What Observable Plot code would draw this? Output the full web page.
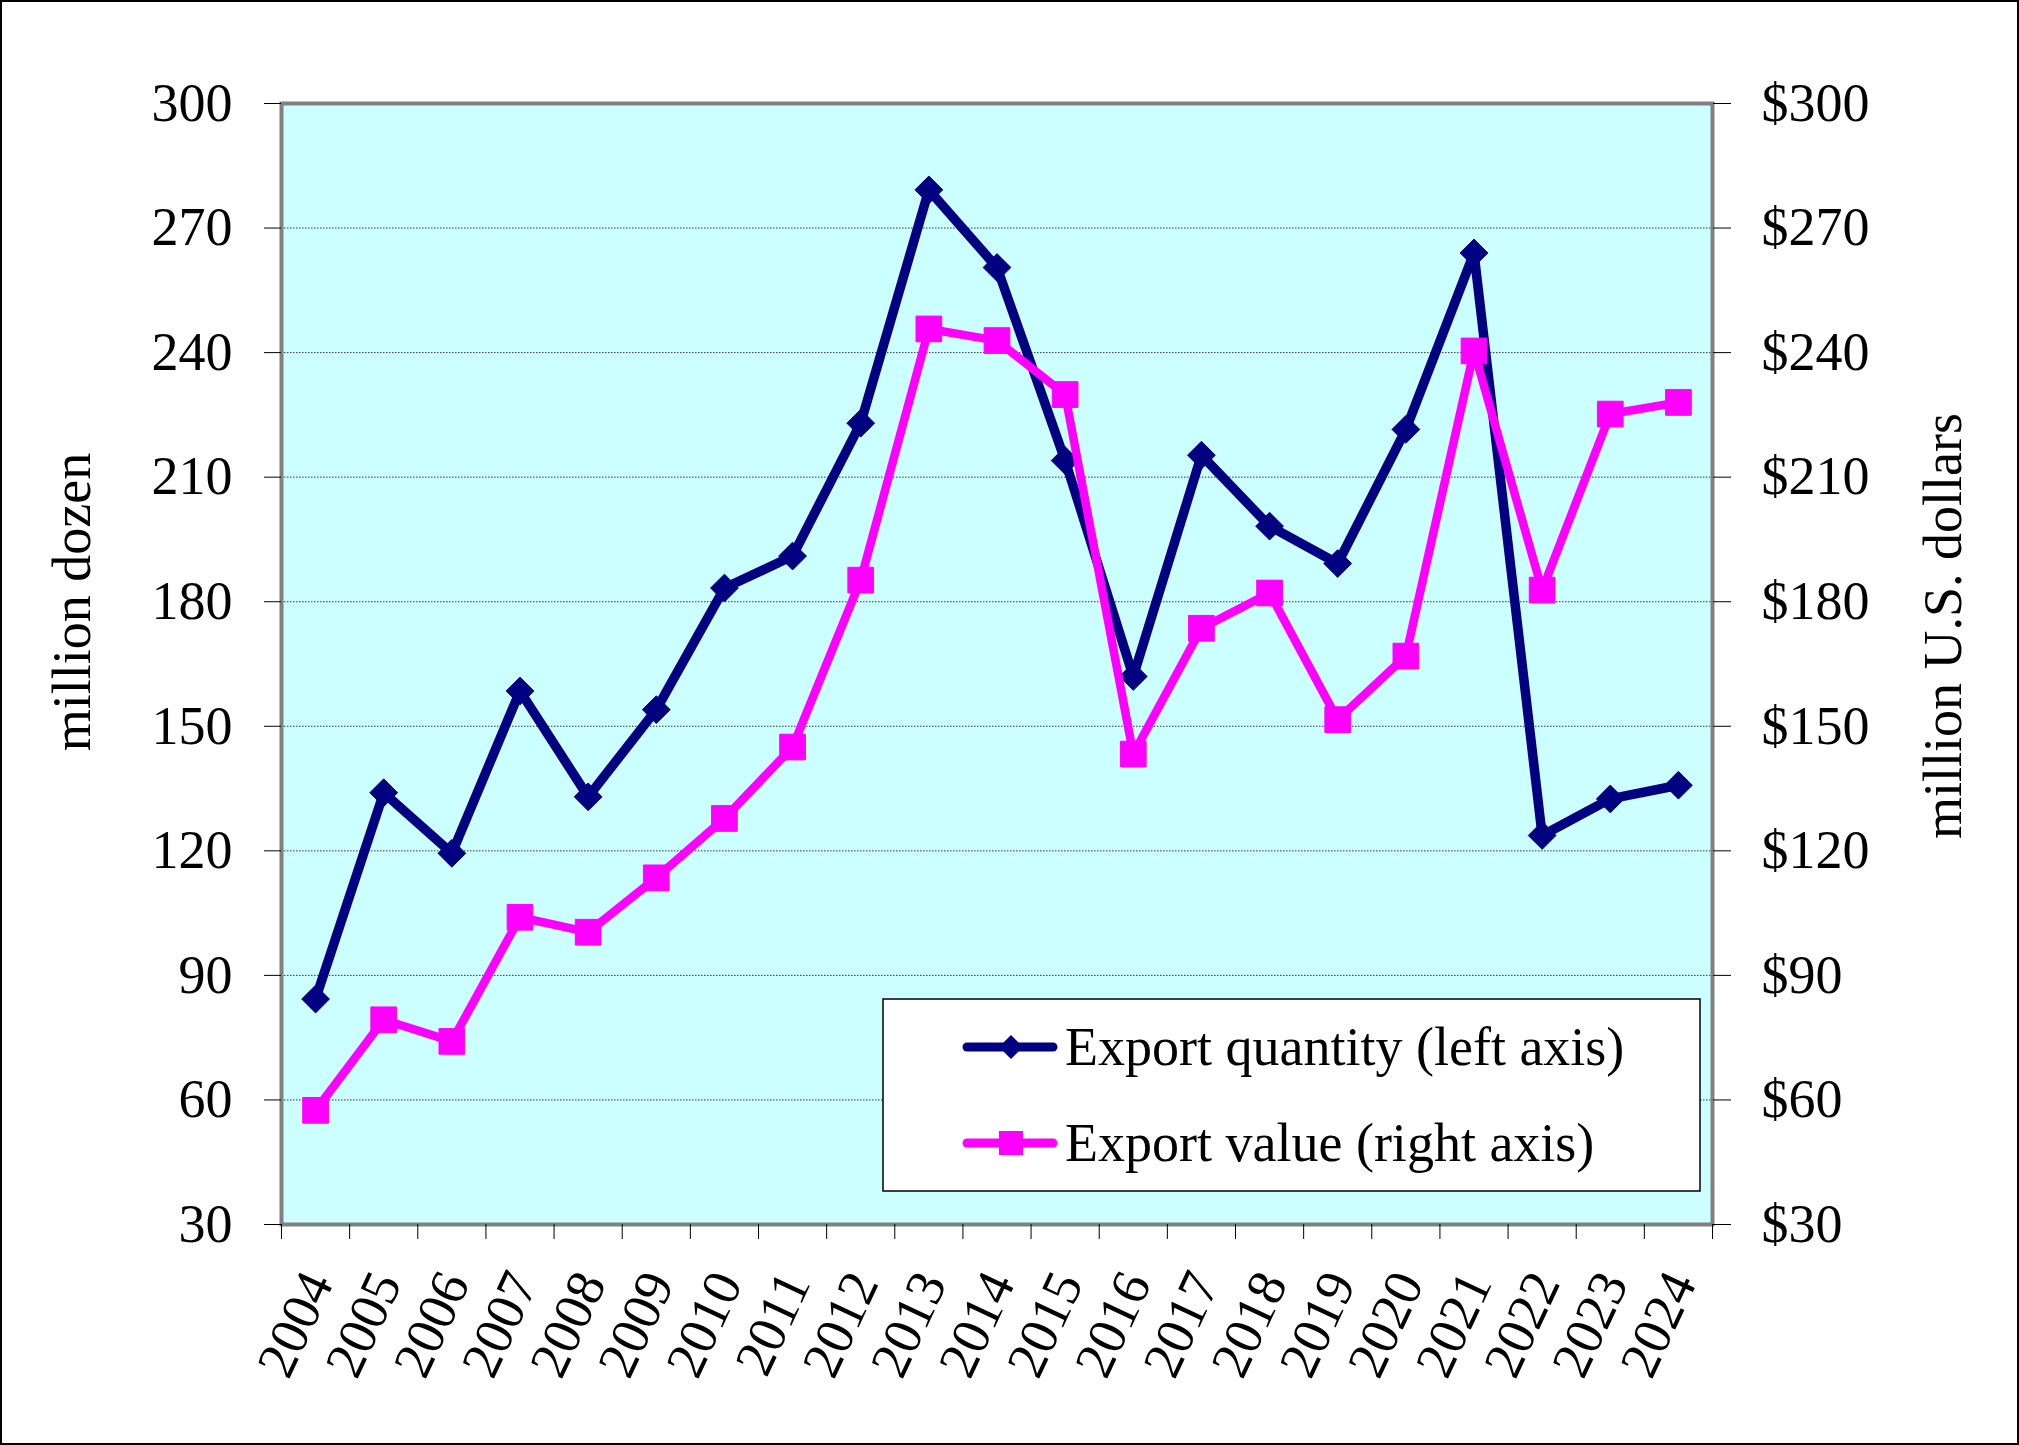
<!DOCTYPE html>
<html>
<head>
<meta charset="utf-8">
<script src="https://cdn.jsdelivr.net/npm/d3@7"></script>
<script src="https://cdn.jsdelivr.net/npm/@observablehq/plot@0.6"></script>
<style>
  html, body { margin: 0; padding: 0; background: white; }
  #chart svg { display: block; outline: 2px solid black; outline-offset: -2px; }
</style>
</head>
<body>
<div id="chart"></div>
<script>
const years = [2004,2005,2006,2007,2008,2009,2010,2011,2012,2013,2014,2015,2016,2017,2018,2019,2020,2021,2022,2023,2024];
const exportQuantity = [84.3,134,119.4,158.5,133,154,183.3,191,223,279.2,260.5,214,162,215.3,198.2,189.2,221.5,264,123.7,132.5,135.8];
const exportValue = [57.5,79.3,74.1,104,100.4,113.5,127.8,145,185.2,245.7,242.9,229.9,143.3,173.6,182.1,151.6,166.9,240.4,182.8,225.2,228];
const yTicks = [30,60,90,120,150,180,210,240,270,300];
const seriesNames = ["Export quantity (left axis)", "Export value (right axis)"];
const axisTitles = ["million dozen", "million U.S. dollars"];

const qty = years.map((year, i) => ({year, value: exportQuantity[i]}));
const val = years.map((year, i) => ({year, value: exportValue[i]}));
const bandEdges = [...years.map(y => y - 0.5), years[years.length - 1] + 0.5];

const NAVY = "#000080", MAGENTA = "#FF00FF";
const FONT = "Liberation Serif, Times New Roman, serif";

const chart = Plot.plot({
  width: 2019,
  height: 1445,
  marginLeft: 281,
  marginRight: 307,
  marginTop: 103,
  marginBottom: 221,
  style: {fontFamily: FONT, fontSize: "54px", background: "white", color: "black"},
  x: {type: "linear", domain: [years[0] - 0.5, years[years.length - 1] + 0.5], axis: null},
  y: {domain: [30, 300], axis: null},
  marks: [
    Plot.frame({fill: "#CCFFFF"}),
    Plot.gridY(yTicks, {stroke: "#222", strokeOpacity: 0.9, strokeWidth: 1, strokeDasharray: "1.5,1.5"}),
    Plot.frame({stroke: "#808080", strokeWidth: 4}),
    Plot.axisY(yTicks, {anchor: "left", label: null, tickSize: 17, tickPadding: 32, tickFormat: d => String(d)}),
    Plot.axisY(yTicks, {anchor: "right", label: null, tickSize: 18, tickPadding: 31, tickFormat: d => "$" + d}),
    Plot.axisX(bandEdges, {anchor: "bottom", label: null, tickSize: 15, tickFormat: () => ""}),
    Plot.text(years, {x: d => d, frameAnchor: "bottom", dy: 51, dx: 3, rotate: -65, textAnchor: "end", lineAnchor: "middle", text: d => String(d), fontSize: 54}),
    Plot.line(qty, {x: "year", y: "value", stroke: NAVY, strokeWidth: 9.5, strokeLinejoin: "round"}),
    Plot.dot(qty, {x: "year", y: "value", symbol: "diamond2", r: 12.5, fill: NAVY, stroke: NAVY, strokeWidth: 1}),
    Plot.line(val, {x: "year", y: "value", stroke: MAGENTA, strokeWidth: 8.5, strokeLinejoin: "round"}),
    Plot.dot(val, {x: "year", y: "value", symbol: "square", r: 14.5, fill: MAGENTA, stroke: MAGENTA, strokeWidth: 1})
  ]
});

const svg = d3.select(chart);

// Axis titles
svg.append("text")
  .attr("transform", "translate(90,602) rotate(-90)")
  .attr("text-anchor", "middle")
  .attr("font-family", FONT).attr("font-size", 54).attr("fill", "black")
  .text(axisTitles[0]);
svg.append("text")
  .attr("transform", "translate(1961,626) rotate(-90)")
  .attr("text-anchor", "middle")
  .attr("font-family", FONT).attr("font-size", 54).attr("fill", "black")
  .text(axisTitles[1]);

// Legend
const lg = svg.append("g");
lg.append("rect").attr("x", 883).attr("y", 999).attr("width", 817).attr("height", 192)
  .attr("fill", "white").attr("stroke", "black").attr("stroke-width", 1.5);
const rows = [
  {name: seriesNames[0], color: NAVY, symbol: d3.symbolDiamond2, size: 367, y: 1047},
  {name: seriesNames[1], color: MAGENTA, symbol: d3.symbolSquare, size: 576, y: 1143}
];
rows.forEach(r => {
  lg.append("line").attr("x1", 967).attr("x2", 1053).attr("y1", r.y).attr("y2", r.y)
    .attr("stroke", r.color).attr("stroke-width", 9).attr("stroke-linecap", "round");
  lg.append("path").attr("d", d3.symbol(r.symbol, r.size)())
    .attr("transform", `translate(1011,${r.y})`).attr("fill", r.color);
  lg.append("text").attr("x", 1065).attr("y", r.y + 18)
    .attr("text-anchor", "start")
    .attr("font-family", FONT).attr("font-size", 54).attr("fill", "black")
    .text(r.name);
});

document.getElementById("chart").appendChild(chart);
</script>
</body>
</html>
